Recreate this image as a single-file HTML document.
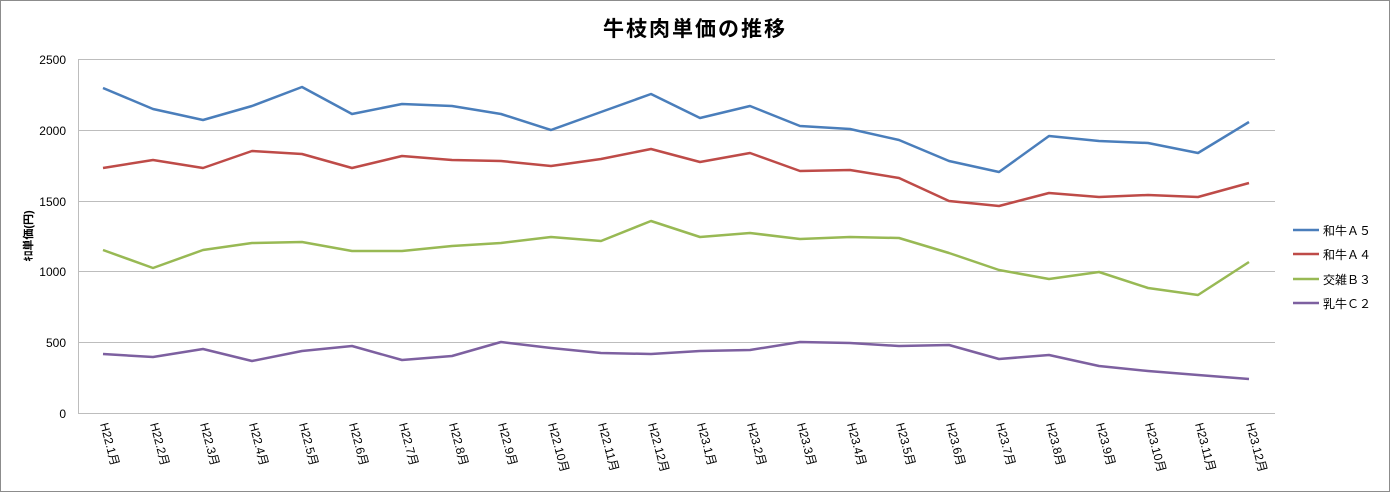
<!DOCTYPE html>
<html><head><meta charset="utf-8"><style>
body{margin:0;background:#fff}
svg{display:block;font-family:"Liberation Sans","Noto Sans CJK JP",sans-serif}
</style></head><body>
<svg width="1390" height="492" viewBox="0 0 1390 492">
<rect x="0.5" y="0.5" width="1389" height="491" fill="#fff" stroke="#8c8c8c"/>
<text x="695" y="36" text-anchor="middle" font-size="21" font-weight="bold" fill="#000" letter-spacing="2">牛枝肉単価の推移</text>
<g stroke="#bdbdbd" stroke-width="1">
<line x1="78" y1="59.5" x2="1275" y2="59.5"/>
<line x1="78" y1="130.5" x2="1275" y2="130.5"/>
<line x1="78" y1="201.5" x2="1275" y2="201.5"/>
<line x1="78" y1="271.5" x2="1275" y2="271.5"/>
<line x1="78" y1="342.5" x2="1275" y2="342.5"/>
<line x1="78" y1="413.5" x2="1275" y2="413.5"/>
<line x1="78.5" y1="59" x2="78.5" y2="413"/>
</g>
<g font-size="12" fill="#000" text-anchor="end">
<text x="66" y="64">2500</text><text x="66" y="135">2000</text><text x="66" y="206">1500</text>
<text x="66" y="276">1000</text><text x="66" y="347">500</text><text x="66" y="418">0</text>
</g>
<text transform="translate(32,236) rotate(-90)" text-anchor="middle" font-size="11" font-weight="bold">ｷﾛ単価(円)</text>
<g fill="none" stroke-width="2.5" stroke-linejoin="round">
<polyline stroke="#4a7ebb" points="103,88 153,109 203,120 252,106 302,87 352,114 402,104 452,106 501,114 551,130 601,112 651,94 700,118 750,106 800,126 850,129 899,140 949,161 999,172 1049,136 1099,141 1148,143 1198,153 1249,122"/>
<polyline stroke="#be4b48" points="103,168 153,160 203,168 252,151 302,154 352,168 402,156 452,160 501,161 551,166 601,159 651,149 700,162 750,153 800,171 850,170 899,178 949,201 999,206 1049,193 1099,197 1148,195 1198,197 1249,183"/>
<polyline stroke="#98b954" points="103,250 153,268 203,250 252,243 302,242 352,251 402,251 452,246 501,243 551,237 601,241 651,221 700,237 750,233 800,239 850,237 899,238 949,253 999,270 1049,279 1099,272 1148,288 1198,295 1249,262"/>
<polyline stroke="#7d60a0" points="103,354 153,357 203,349 252,361 302,351 352,346 402,360 452,356 501,342 551,348 601,353 651,354 700,351 750,350 800,342 850,343 899,346 949,345 999,359 1049,355 1099,366 1148,371 1198,375 1249,379"/>
</g>
<g font-size="12" fill="#000">
<text transform="translate(100,424) rotate(75)">H22.1月</text>
<text transform="translate(150,424) rotate(75)">H22.2月</text>
<text transform="translate(200,424) rotate(75)">H22.3月</text>
<text transform="translate(249,424) rotate(75)">H22.4月</text>
<text transform="translate(299,424) rotate(75)">H22.5月</text>
<text transform="translate(349,424) rotate(75)">H22.6月</text>
<text transform="translate(399,424) rotate(75)">H22.7月</text>
<text transform="translate(449,424) rotate(75)">H22.8月</text>
<text transform="translate(498,424) rotate(75)">H22.9月</text>
<text transform="translate(548,424) rotate(75)">H22.10月</text>
<text transform="translate(598,424) rotate(75)">H22.11月</text>
<text transform="translate(648,424) rotate(75)">H22.12月</text>
<text transform="translate(697,424) rotate(75)">H23.1月</text>
<text transform="translate(747,424) rotate(75)">H23.2月</text>
<text transform="translate(797,424) rotate(75)">H23.3月</text>
<text transform="translate(847,424) rotate(75)">H23.4月</text>
<text transform="translate(896,424) rotate(75)">H23.5月</text>
<text transform="translate(946,424) rotate(75)">H23.6月</text>
<text transform="translate(996,424) rotate(75)">H23.7月</text>
<text transform="translate(1046,424) rotate(75)">H23.8月</text>
<text transform="translate(1096,424) rotate(75)">H23.9月</text>
<text transform="translate(1145,424) rotate(75)">H23.10月</text>
<text transform="translate(1195,424) rotate(75)">H23.11月</text>
<text transform="translate(1246,424) rotate(75)">H23.12月</text>
</g>
<g stroke-width="2.5">
<line x1="1293" y1="230" x2="1319" y2="230" stroke="#4a7ebb"/>
<line x1="1293" y1="254" x2="1319" y2="254" stroke="#be4b48"/>
<line x1="1293" y1="279" x2="1319" y2="279" stroke="#98b954"/>
<line x1="1293" y1="303" x2="1319" y2="303" stroke="#7d60a0"/>
</g>
<g font-size="12" fill="#000">
<text x="1323" y="235">和牛Ａ５</text>
<text x="1323" y="259">和牛Ａ４</text>
<text x="1323" y="284">交雑Ｂ３</text>
<text x="1323" y="308">乳牛Ｃ２</text>
</g>
</svg>
</body></html>
